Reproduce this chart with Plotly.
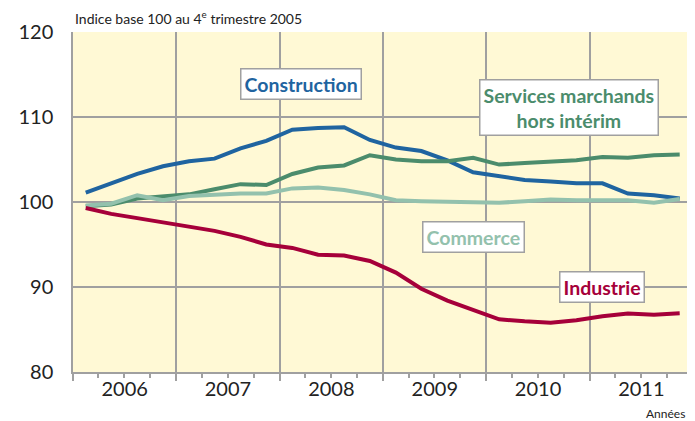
import plotly.graph_objects as go

quarters = [f"{y}-{m}" for y in range(2006, 2012) for m in ("02-15", "05-16", "08-16", "11-15")]

construction = [101.1, 102.2, 103.3, 104.2, 104.8, 105.1, 106.3, 107.2,
                108.5, 108.7, 108.8, 107.3, 106.4, 106.0, 104.9, 103.5,
                103.1, 102.6, 102.4, 102.2, 102.2, 101.0, 100.8, 100.4]
services = [99.5, 99.7, 100.4, 100.6, 100.9, 101.5, 102.1, 102.0,
            103.3, 104.05, 104.3, 105.5, 105.0, 104.8, 104.8, 105.2,
            104.4, 104.6, 104.7, 104.9, 105.3, 105.2, 105.5, 105.6]
commerce = [99.6, 99.8, 100.8, 100.2, 100.7, 100.9, 101.0, 101.0,
            101.6, 101.7, 101.4, 100.9, 100.2, 100.1, 100.05, 99.9,
            99.9, 100.1, 100.3, 100.2, 100.25, 100.2, 99.9, 100.35]
industrie = [99.3, 98.6, 98.1, 97.6, 97.1, 96.6, 95.9, 95.0,
             94.6, 93.8, 93.7, 93.06, 91.7, 89.8, 88.4, 87.3,
             86.2, 85.96, 85.8, 86.1, 86.55, 86.87, 86.75, 86.9]

series = [
    ("Construction", construction, "#1f64a0"),
    ("Services marchands hors intérim", services, "#4b8c6c"),
    ("Commerce", commerce, "#93c1ad"),
    ("Industrie", industrie, "#a6003a"),
]

labels = [
    ("Construction", "2008-03-17", 113.85, "#1f64a0"),
    ("Services marchands<br>hors intérim", "2010-10-20", 111.1, "#4b8c6c"),
    ("Commerce", "2009-11-17", 95.85, "#93c1ad"),
    ("Industrie", "2011-02-15", 89.96, "#a6003a"),
]

FONT = "Lato"

fig = go.Figure()
for name, vals, col in series:
    fig.add_trace(go.Scatter(x=quarters, y=vals, mode="lines", name=name,
                             line=dict(color=col, width=4), showlegend=False))

for text, x, y, col in labels:
    fig.add_annotation(x=x, y=y, xref="x", yref="y", text=f"<b>{text}</b>",
                       showarrow=False, font=dict(family=FONT, size=19.5, color=col),
                       bgcolor="white", bordercolor="#a0a0a0", borderwidth=1.5,
                       borderpad=3)

fig.add_annotation(x=0, y=1, xref="paper", yref="paper", xanchor="left", yanchor="bottom",
                   yshift=3, text="Indice base 100 au 4<sup>e</sup> trimestre 2005",
                   showarrow=False, font=dict(family=FONT, size=14, color="#222"))
fig.add_annotation(x=1, y=0, xref="paper", yref="paper", xanchor="right", yanchor="top",
                   yshift=-32, xshift=-6, text="Années",
                   showarrow=False, font=dict(family=FONT, size=12, color="#222"))

fig.update_layout(
    width=687, height=413,
    margin=dict(l=65, r=2, t=24, b=49, autoexpand=False),
    paper_bgcolor="white",
    plot_bgcolor="#fff9d5",
    font=dict(family=FONT, color="#222"),
)
fig.update_xaxes(
    type="date", range=["2006-01-01", "2012-01-01"], automargin=False,
    dtick="M12", tick0="2006-01-01", tickformat="%Y", ticklabelmode="period",
    showgrid=True, gridcolor="#a0a0a0", gridwidth=1.5,
    showline=True, linecolor="#a0a0a0", linewidth=1.5,
    ticks="outside", ticklen=7, tickcolor="#a0a0a0", tickwidth=1.5,
    ticklabelstandoff=-9,
    minor=dict(dtick="M3", tick0="2006-01-01", ticks="outside", ticklen=4,
               tickcolor="#a0a0a0", tickwidth=1.5, showgrid=False),
    tickfont=dict(family=FONT, size=20, color="#222"),
    zeroline=False,
)
fig.update_yaxes(
    range=[80, 120], dtick=10, tick0=80, automargin=False,
    showgrid=True, gridcolor="#a0a0a0", gridwidth=1.5,
    showline=True, linecolor="#a0a0a0", linewidth=1.5,
    ticks="", ticklabelstandoff=14,
    tickfont=dict(family=FONT, size=20, color="#222"),
    zeroline=False,
)

fig.write_html("out.html")
